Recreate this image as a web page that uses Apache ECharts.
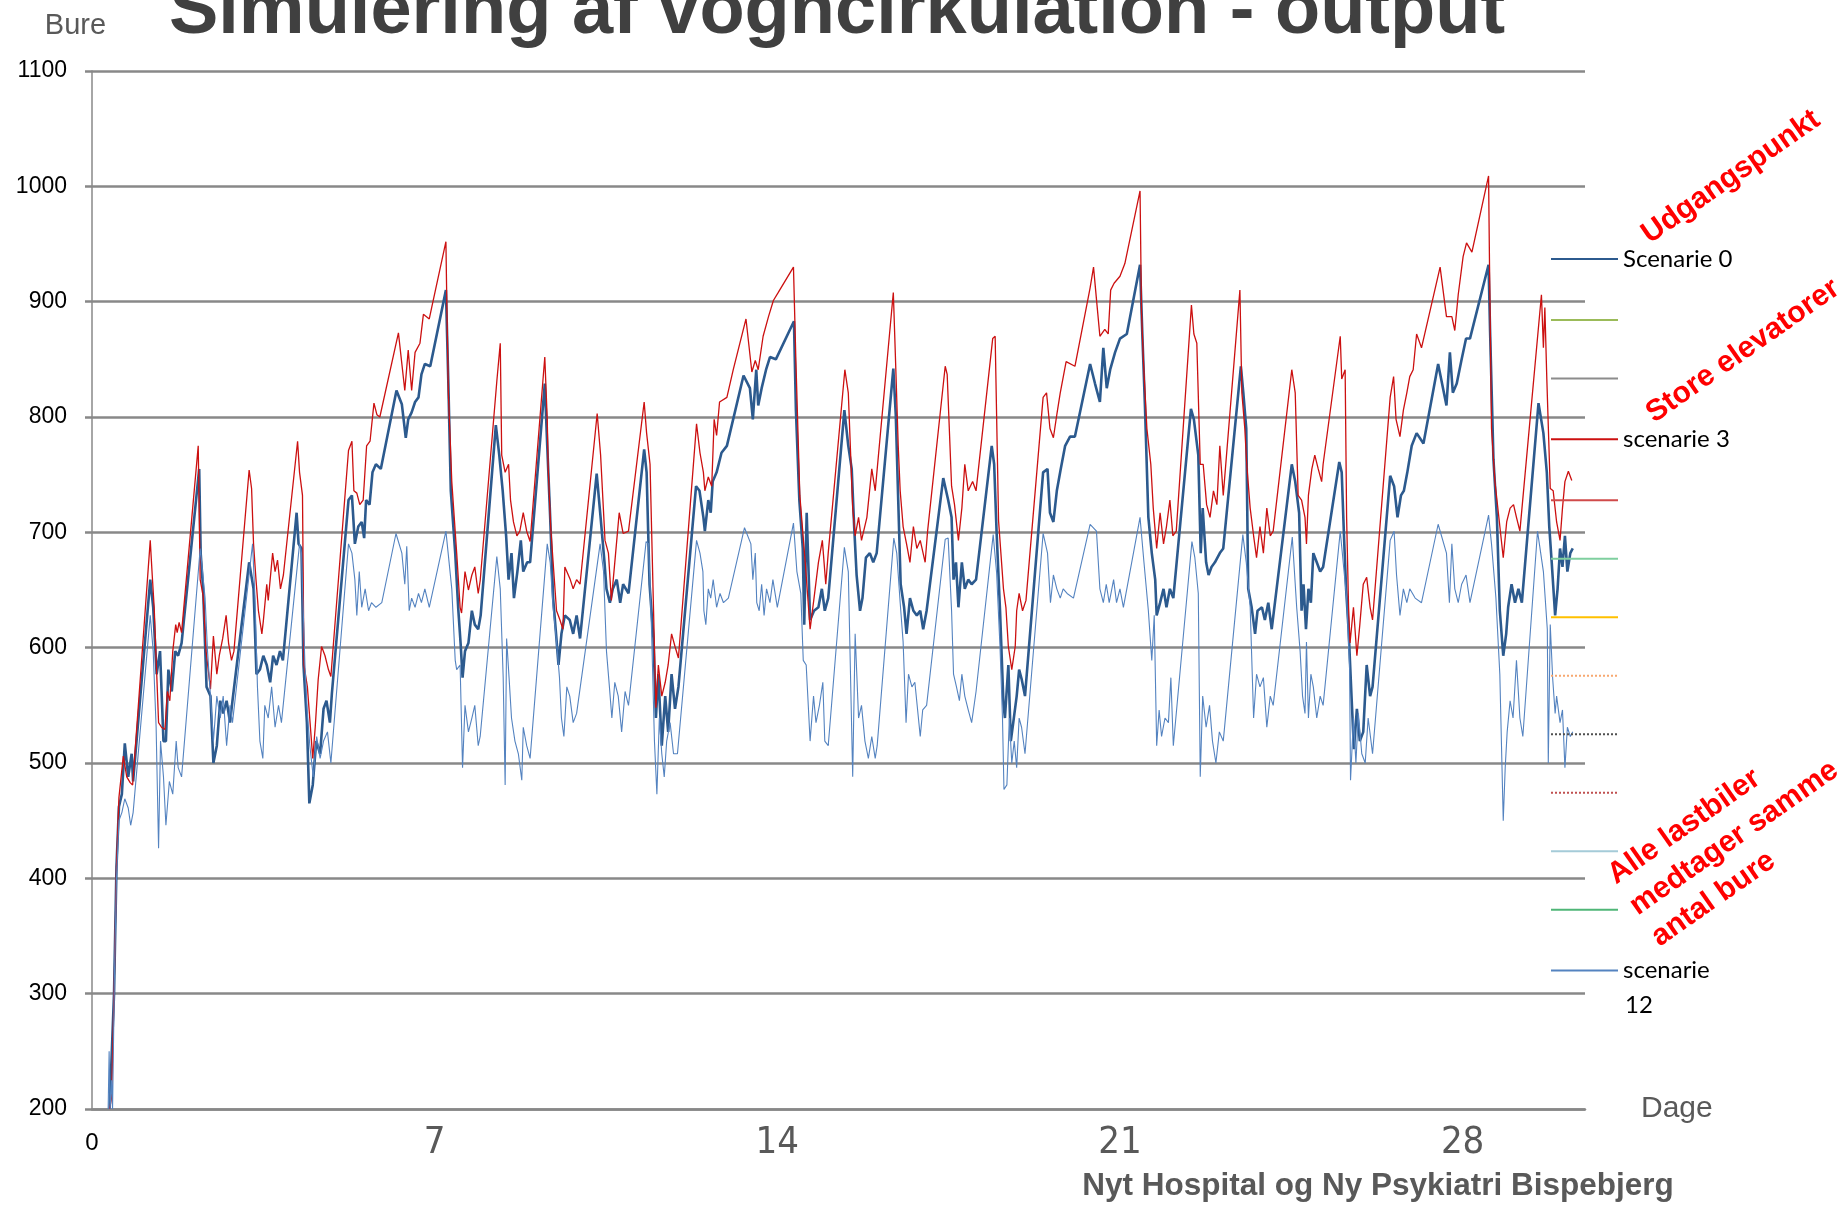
<!DOCTYPE html>
<html>
<head>
<meta charset="utf-8">
<title>Simulering af vogncirkulation - output</title>
<script src="https://cdn.jsdelivr.net/npm/echarts@6.0.0/dist/echarts.min.js"></script>
<style>
  html, body { margin: 0; padding: 0; background: #fff; }
  #chart { width: 1845px; height: 1206px; }
</style>
</head>
<body>
<div id="chart"></div>
<script>
// x ticks (dage) and y ticks (bure)
const dayTicks = [0, 7, 14, 21, 28]
const bureMin = 200
const bureMax = 1100

// legend entries, in the order of the reference legend
const legendNames = ['Scenarie 0', 'Scenarie 1', 'Scenarie 2', 'scenarie 3', 'Scenarie 4', 'Scenarie 5',
  'Scenarie 6', 'Scenarie 7', 'Scenarie 8', 'Scenarie 9', 'Scenarie 10', 'Scenarie 11', 'scenarie 12']
const legendLabels = ['Scenarie 0', '', '', 'scenarie 3', '', '', '', '', '', '', '', '', 'scenarie']

// [dag, bure]
const scenarie0 = [
  [0.36, 200], [0.40, 200], [0.45, 300], [0.50, 410], [0.55, 462], [0.61, 473], [0.67, 517], [0.74, 488], [0.81, 508], [0.84, 484],
  [1.19, 659], [1.25, 635], [1.32, 577], [1.39, 597], [1.46, 519], [1.51, 519], [1.56, 581], [1.63, 562], [1.70, 597], [1.76, 593], [1.83, 604],
  [2.19, 755], [2.22, 682], [2.27, 651], [2.34, 566], [2.42, 558], [2.48, 500], [2.55, 515], [2.62, 554], [2.68, 543], [2.75, 554], [2.82, 535], [2.87, 554],
  [3.21, 674], [3.30, 651], [3.36, 577], [3.43, 581], [3.50, 593], [3.57, 585], [3.64, 570], [3.70, 593], [3.77, 585], [3.84, 597], [3.90, 589],
  [4.18, 717], [4.22, 690], [4.28, 686], [4.32, 585], [4.39, 535], [4.44, 465], [4.51, 481], [4.58, 519], [4.66, 508], [4.73, 547], [4.79, 554], [4.86, 535], [4.90, 560],
  [5.24, 728], [5.31, 732], [5.37, 690], [5.44, 705], [5.51, 709], [5.56, 695], [5.60, 728], [5.67, 724], [5.73, 752], [5.80, 759], [5.90, 755],
  [6.22, 823], [6.33, 811], [6.41, 782], [6.46, 798], [6.53, 804], [6.60, 813], [6.67, 817], [6.73, 837], [6.80, 846], [6.91, 844],
  [7.23, 910], [7.28, 829], [7.33, 736], [7.42, 682], [7.48, 635], [7.53, 604], [7.57, 574], [7.62, 597], [7.69, 604], [7.76, 632], [7.82, 620], [7.89, 616], [7.94, 628],
  [8.25, 793], [8.32, 767], [8.39, 736], [8.46, 697], [8.51, 659], [8.57, 682], [8.62, 643], [8.69, 666], [8.76, 693], [8.81, 666], [8.89, 674], [8.95, 674],
  [9.25, 829], [9.30, 775], [9.36, 713], [9.42, 643], [9.48, 612], [9.53, 585], [9.59, 612], [9.66, 628], [9.76, 624], [9.83, 612], [9.90, 628], [9.97, 608],
  [10.31, 751], [10.39, 713], [10.47, 674], [10.51, 651], [10.58, 639], [10.64, 651], [10.72, 659], [10.79, 639], [10.85, 655], [10.96, 647],
  [11.28, 772], [11.33, 752], [11.39, 655], [11.47, 608], [11.52, 539], [11.57, 577], [11.64, 515], [11.71, 558], [11.77, 527], [11.84, 577], [11.91, 547], [11.98, 566],
  [12.34, 740], [12.41, 736], [12.49, 713], [12.52, 701], [12.59, 728], [12.64, 717], [12.68, 744], [12.76, 752], [12.86, 769], [12.97, 775],
  [13.31, 836], [13.44, 825], [13.50, 798], [13.57, 841], [13.61, 810], [13.68, 825], [13.77, 841], [13.85, 852], [13.97, 850],
  [14.34, 883], [14.38, 806], [14.45, 728], [14.52, 686], [14.55, 620], [14.60, 717], [14.67, 624], [14.75, 632], [14.84, 635], [14.91, 651], [14.97, 632], [15.04, 643],
  [15.37, 806], [15.45, 775], [15.52, 755], [15.57, 705], [15.62, 663], [15.69, 632], [15.74, 643], [15.81, 678], [15.89, 682], [15.96, 674], [16.03, 682],
  [16.37, 842], [16.42, 802], [16.47, 728], [16.52, 655], [16.59, 635], [16.64, 612], [16.71, 643], [16.78, 632], [16.85, 628], [16.92, 632], [16.98, 616], [17.05, 632],
  [17.39, 747], [17.49, 728], [17.56, 713], [17.60, 659], [17.65, 674], [17.70, 635], [17.77, 674], [17.83, 651], [17.90, 659], [17.97, 655], [18.06, 659],
  [18.38, 775], [18.43, 759], [18.48, 700], [18.55, 632], [18.62, 551], [18.65, 539], [18.72, 585], [18.77, 519], [18.82, 535], [18.89, 558], [18.94, 581], [18.99, 573], [19.06, 558],
  [19.43, 752], [19.52, 755], [19.57, 717], [19.64, 709], [19.71, 736], [19.79, 755], [19.88, 775], [19.98, 783], [20.08, 783],
  [20.39, 846], [20.49, 829], [20.59, 813], [20.66, 860], [20.73, 825], [20.80, 841], [20.90, 856], [21.00, 868], [21.14, 872],
  [21.41, 932], [21.46, 868], [21.51, 810], [21.58, 713], [21.65, 682], [21.72, 659], [21.75, 628], [21.82, 639], [21.89, 651], [21.95, 635], [22.02, 651], [22.09, 643],
  [22.45, 807], [22.51, 798], [22.60, 767], [22.65, 682], [22.69, 721], [22.76, 674], [22.81, 663], [22.87, 670], [22.94, 674], [23.04, 682], [23.11, 686],
  [23.47, 844], [23.52, 821], [23.58, 790], [23.62, 651], [23.69, 635], [23.76, 612], [23.81, 632], [23.90, 635], [23.96, 624], [24.03, 639], [24.10, 616],
  [24.51, 759], [24.58, 744], [24.66, 717], [24.71, 632], [24.75, 655], [24.80, 616], [24.85, 651], [24.90, 639], [24.95, 682], [25.02, 674], [25.09, 666], [25.15, 670],
  [25.48, 761], [25.53, 752], [25.58, 693], [25.62, 651], [25.67, 616], [25.73, 558], [25.78, 512], [25.84, 547], [25.90, 519], [25.97, 527], [26.04, 585], [26.11, 558], [26.16, 566],
  [26.52, 749], [26.60, 740], [26.67, 713], [26.74, 732], [26.80, 736], [26.87, 752], [26.96, 775], [27.06, 786], [27.20, 777],
  [27.50, 846], [27.67, 810], [27.74, 856], [27.80, 821], [27.88, 829], [27.98, 850], [28.07, 868], [28.15, 868],
  [28.53, 932], [28.56, 876], [28.63, 763], [28.70, 713], [28.76, 632], [28.83, 593], [28.89, 612], [28.93, 635], [29.00, 655], [29.07, 639], [29.14, 651], [29.21, 639],
  [29.55, 812], [29.65, 786], [29.72, 752], [29.77, 705], [29.82, 674], [29.89, 628], [29.94, 651], [29.99, 686], [30.04, 670], [30.09, 697], [30.14, 666], [30.20, 682], [30.25, 686]
]

const scenarie3 = [
  [0.36, 200], [0.40, 210], [0.45, 300], [0.50, 410], [0.55, 470], [0.64, 506], [0.71, 488], [0.78, 483], [0.83, 481],
  [1.19, 693], [1.23, 663], [1.27, 635], [1.36, 535], [1.42, 531], [1.49, 529], [1.54, 562], [1.59, 554], [1.65, 597], [1.71, 620], [1.74, 613], [1.78, 622], [1.83, 613],
  [2.17, 775], [2.21, 659], [2.27, 645], [2.33, 597], [2.42, 564], [2.48, 610], [2.55, 577], [2.60, 593], [2.67, 608], [2.74, 628], [2.79, 604], [2.85, 589], [2.90, 597],
  [3.21, 754], [3.26, 738], [3.30, 690], [3.35, 659], [3.40, 632], [3.47, 612], [3.50, 623], [3.57, 655], [3.60, 641], [3.69, 682], [3.74, 666], [3.79, 676], [3.85, 651], [3.91, 663],
  [4.20, 779], [4.24, 752], [4.30, 732], [4.33, 585], [4.40, 566], [4.51, 504], [4.56, 531], [4.62, 572], [4.69, 601], [4.76, 593], [4.83, 581], [4.88, 575],
  [5.24, 771], [5.31, 779], [5.35, 736], [5.41, 734], [5.47, 724], [5.54, 728], [5.61, 775], [5.68, 779], [5.76, 812], [5.82, 802], [5.88, 800],
  [6.26, 873], [6.39, 823], [6.46, 858], [6.53, 823], [6.60, 856], [6.70, 864], [6.77, 889], [6.89, 885], [6.94, 895],
  [7.23, 952], [7.25, 895], [7.28, 821], [7.35, 744], [7.45, 682], [7.52, 635], [7.55, 630], [7.62, 666], [7.69, 650], [7.76, 663], [7.82, 670], [7.89, 647], [7.93, 658],
  [8.27, 831], [8.34, 864], [8.37, 767], [8.44, 752], [8.51, 759], [8.55, 728], [8.61, 709], [8.68, 697], [8.74, 701], [8.81, 717], [8.88, 701], [8.95, 692],
  [9.25, 852], [9.30, 798], [9.32, 755], [9.37, 705], [9.42, 674], [9.49, 632], [9.56, 624], [9.62, 616], [9.66, 670], [9.77, 659], [9.83, 651], [9.90, 659], [9.97, 655],
  [10.32, 803], [10.39, 767], [10.48, 693], [10.55, 682], [10.61, 641], [10.68, 674], [10.77, 717], [10.85, 699], [10.96, 701],
  [11.28, 813], [11.33, 786], [11.40, 759], [11.47, 635], [11.52, 548], [11.57, 585], [11.64, 558], [11.71, 570], [11.77, 585], [11.84, 612], [11.91, 601], [11.98, 591],
  [12.35, 794], [12.42, 769], [12.49, 752], [12.52, 736], [12.59, 748], [12.66, 740], [12.71, 798], [12.76, 784], [12.82, 813], [12.97, 817], [13.10, 841],
  [13.36, 885], [13.48, 839], [13.55, 849], [13.61, 841], [13.71, 870], [13.82, 887], [13.92, 901], [14.02, 908],
  [14.33, 930], [14.38, 848], [14.46, 732], [14.57, 674], [14.67, 616], [14.75, 643], [14.84, 674], [14.92, 693], [14.99, 655], [15.04, 682],
  [15.38, 841], [15.45, 821], [15.54, 721], [15.59, 697], [15.66, 713], [15.72, 693], [15.83, 713], [15.93, 755], [16.00, 736],
  [16.37, 908], [16.41, 856], [16.47, 775], [16.51, 736], [16.57, 705], [16.64, 690], [16.71, 674], [16.78, 705], [16.85, 686], [16.92, 693], [17.02, 674], [17.07, 701],
  [17.43, 844], [17.47, 837], [17.56, 740], [17.62, 724], [17.70, 693], [17.77, 721], [17.83, 759], [17.90, 736], [17.99, 744], [18.06, 736],
  [18.40, 868], [18.45, 870], [18.52, 710], [18.62, 651], [18.67, 635], [18.72, 601], [18.79, 581], [18.86, 601], [18.89, 632], [18.94, 647], [19.01, 632], [19.08, 641],
  [19.43, 817], [19.50, 821], [19.57, 790], [19.64, 782], [19.71, 802], [19.78, 821], [19.90, 848], [20.08, 844],
  [20.39, 912], [20.46, 930], [20.52, 902], [20.59, 870], [20.69, 876], [20.76, 872], [20.81, 910], [20.88, 916], [21.00, 922], [21.10, 933],
  [21.41, 996], [21.44, 891], [21.48, 848], [21.55, 790], [21.63, 759], [21.68, 721], [21.75, 686], [21.82, 717], [21.89, 690], [21.95, 705], [22.02, 728], [22.08, 697], [22.15, 701],
  [22.46, 897], [22.51, 872], [22.57, 864], [22.64, 759], [22.70, 759], [22.77, 724], [22.84, 713], [22.91, 736], [22.98, 724], [23.04, 775], [23.11, 732],
  [23.45, 910], [23.49, 821], [23.55, 790], [23.59, 759], [23.66, 721], [23.73, 697], [23.79, 678], [23.86, 705], [23.93, 682], [24.00, 721], [24.07, 697], [24.13, 701],
  [24.51, 841], [24.58, 821], [24.64, 732], [24.71, 728], [24.78, 713], [24.81, 690], [24.85, 732], [24.92, 755], [24.98, 767], [25.05, 755], [25.12, 744], [25.15, 759],
  [25.50, 870], [25.53, 833], [25.60, 841], [25.63, 713], [25.67, 635], [25.70, 604], [25.77, 635], [25.84, 593], [25.90, 620], [25.97, 655], [26.04, 661], [26.11, 635], [26.16, 624],
  [26.52, 817], [26.59, 835], [26.64, 798], [26.72, 783], [26.79, 806], [26.86, 821], [26.92, 835], [26.99, 841], [27.06, 872], [27.16, 860],
  [27.54, 930], [27.67, 887], [27.78, 887], [27.84, 875], [27.91, 906], [28.01, 939], [28.08, 951], [28.19, 943],
  [28.53, 1009], [28.55, 930], [28.59, 790], [28.66, 744], [28.73, 717], [28.83, 678], [28.90, 709], [28.97, 721], [29.04, 724], [29.10, 713], [29.17, 701],
  [29.61, 906], [29.65, 860], [29.68, 895], [29.72, 833], [29.79, 738], [29.85, 736], [29.92, 709], [29.99, 693], [30.04, 721], [30.09, 744], [30.16, 753], [30.23, 745]
]

const scenarie12 = [
  [0.33, 200], [0.35, 250], [0.37, 200], [0.40, 225], [0.42, 200], [0.46, 320], [0.50, 400], [0.55, 450], [0.61, 457], [0.67, 469], [0.74, 461], [0.79, 446], [0.84, 457],
  [1.19, 628], [1.25, 597], [1.31, 531], [1.36, 426], [1.40, 519], [1.46, 488], [1.51, 446], [1.58, 484], [1.65, 473], [1.72, 519], [1.76, 496], [1.83, 488],
  [2.21, 686], [2.24, 674], [2.31, 643], [2.36, 597], [2.42, 558], [2.48, 519], [2.55, 558], [2.62, 539], [2.68, 558], [2.75, 515], [2.82, 550], [2.87, 535],
  [3.28, 690], [3.33, 643], [3.38, 566], [3.43, 519], [3.49, 504], [3.53, 550], [3.60, 539], [3.67, 566], [3.74, 531], [3.81, 550], [3.87, 535],
  [4.24, 690], [4.28, 682], [4.35, 585], [4.40, 543], [4.45, 515], [4.52, 488], [4.59, 523], [4.66, 504], [4.73, 519], [4.81, 527], [4.88, 500],
  [5.24, 690], [5.31, 682], [5.37, 659], [5.41, 628], [5.46, 666], [5.51, 635], [5.58, 651], [5.65, 632], [5.71, 639], [5.80, 635], [5.92, 639],
  [6.21, 699], [6.33, 682], [6.39, 655], [6.43, 688], [6.48, 632], [6.53, 643], [6.60, 635], [6.67, 647], [6.73, 639], [6.80, 651], [6.89, 635],
  [7.23, 701], [7.35, 651], [7.42, 589], [7.45, 581], [7.52, 585], [7.57, 496], [7.62, 550], [7.69, 527], [7.76, 539], [7.82, 550], [7.89, 515], [7.93, 523],
  [8.27, 679], [8.34, 651], [8.40, 574], [8.44, 481], [8.47, 608], [8.52, 574], [8.57, 539], [8.64, 519], [8.71, 508], [8.78, 485], [8.81, 531], [8.88, 515], [8.95, 504],
  [9.30, 690], [9.36, 674], [9.42, 635], [9.49, 605], [9.55, 574], [9.59, 539], [9.64, 523], [9.70, 566], [9.76, 558], [9.83, 535], [9.90, 543],
  [10.38, 690], [10.45, 666], [10.51, 597], [10.57, 566], [10.62, 539], [10.68, 570], [10.75, 558], [10.82, 527], [10.89, 562], [10.96, 550],
  [11.32, 692], [11.37, 690], [11.43, 616], [11.49, 519], [11.54, 473], [11.59, 539], [11.64, 508], [11.69, 488], [11.74, 519], [11.81, 535], [11.88, 508], [11.96, 508],
  [12.35, 693], [12.42, 682], [12.48, 666], [12.50, 632], [12.54, 620], [12.59, 651], [12.64, 643], [12.69, 659], [12.76, 635], [12.83, 647], [12.90, 639], [13.00, 643],
  [13.33, 704], [13.46, 690], [13.50, 659], [13.55, 682], [13.58, 639], [13.63, 632], [13.68, 655], [13.73, 628], [13.78, 651], [13.85, 639], [13.91, 659], [14.00, 635],
  [14.33, 708], [14.40, 666], [14.48, 647], [14.53, 589], [14.59, 585], [14.67, 519], [14.74, 558], [14.79, 535], [14.86, 550], [14.93, 570], [14.97, 519], [15.04, 515],
  [15.37, 687], [15.45, 666], [15.54, 488], [15.59, 612], [15.66, 539], [15.72, 550], [15.79, 519], [15.86, 504], [15.93, 523], [16.00, 504], [16.04, 515],
  [16.38, 695], [16.44, 682], [16.51, 639], [16.57, 605], [16.63, 535], [16.68, 577], [16.75, 566], [16.81, 570], [16.92, 523], [16.97, 546], [17.05, 550],
  [17.43, 694], [17.49, 695], [17.56, 632], [17.60, 577], [17.66, 566], [17.72, 554], [17.77, 577], [17.83, 558], [17.90, 546], [17.97, 535], [18.06, 562],
  [18.41, 698], [18.48, 665], [18.55, 600], [18.60, 539], [18.63, 477], [18.69, 481], [18.74, 539], [18.79, 500], [18.84, 519], [18.89, 496], [18.94, 539], [18.99, 531], [19.06, 508],
  [19.43, 699], [19.52, 682], [19.58, 639], [19.64, 663], [19.71, 651], [19.78, 643], [19.84, 651], [19.92, 647], [20.05, 643],
  [20.39, 707], [20.52, 701], [20.59, 651], [20.66, 639], [20.72, 655], [20.78, 639], [20.87, 659], [20.93, 639], [21.00, 651], [21.07, 635],
  [21.41, 713], [21.49, 674], [21.58, 632], [21.65, 589], [21.70, 628], [21.75, 515], [21.80, 546], [21.85, 523], [21.92, 539], [21.99, 535], [22.04, 574], [22.09, 515],
  [22.47, 692], [22.53, 678], [22.60, 647], [22.64, 488], [22.69, 558], [22.76, 531], [22.83, 550], [22.89, 519], [22.96, 500], [23.03, 527], [23.11, 519],
  [23.51, 698], [23.58, 674], [23.66, 635], [23.73, 539], [23.79, 577], [23.86, 566], [23.93, 574], [24.00, 531], [24.07, 558], [24.13, 550],
  [24.52, 696], [24.56, 696], [24.61, 635], [24.68, 597], [24.73, 558], [24.78, 543], [24.81, 605], [24.85, 539], [24.90, 577], [24.95, 566], [25.02, 539], [25.09, 558], [25.15, 550],
  [25.50, 701], [25.56, 674], [25.63, 643], [25.69, 585], [25.71, 485], [25.77, 539], [25.82, 500], [25.87, 543], [25.94, 508], [26.01, 500], [26.07, 539], [26.16, 508],
  [26.52, 693], [26.60, 701], [26.65, 663], [26.72, 628], [26.79, 651], [26.86, 639], [26.92, 651], [27.03, 643], [27.16, 639],
  [27.50, 707], [27.67, 682], [27.73, 639], [27.78, 690], [27.84, 651], [27.91, 639], [27.98, 655], [28.07, 663], [28.15, 639],
  [28.53, 715], [28.59, 690], [28.68, 643], [28.76, 577], [28.83, 450], [28.87, 496], [28.91, 527], [28.97, 554], [29.03, 539], [29.10, 589], [29.17, 539], [29.23, 523],
  [29.53, 701], [29.65, 666], [29.73, 616], [29.75, 500], [29.79, 620], [29.84, 573], [29.89, 543], [29.92, 558], [29.99, 535], [30.04, 546], [30.09, 496], [30.14, 531], [30.20, 523], [30.25, 527]
]

// legend-only entries (no data drawn in the picture)
const emptyStyles = [
  null,
  { color: '#9bbb59', type: 'solid' },
  { color: '#8c8c8c', type: 'solid' },
  null,
  { color: '#d04a4a', type: 'solid' },
  { color: '#7fcf9f', type: 'solid' },
  { color: '#ffc000', type: 'solid' },
  { color: '#f7a870', type: 'dotted' },
  { color: '#505050', type: 'dotted' },
  { color: '#c05050', type: 'dotted' },
  { color: '#a5cbd8', type: 'solid' },
  { color: '#4fb677', type: 'solid' },
  null
]

const chart = echarts.init(document.getElementById('chart'))

const mainSeries = {
  'Scenarie 0': { data: scenarie0, color: '#2c5a8e', width: 2.6 },
  'scenarie 3': { data: scenarie3, color: '#cc1010', width: 1.3 },
  'scenarie 12': { data: scenarie12, color: '#5483c0', width: 1.1 }
}

const series = []
legendNames.forEach((name, i) => {
  if (mainSeries[name]) return
  series.push({
    name,
    type: 'line',
    data: [],
    symbol: 'none',
    color: emptyStyles[i].color,
    lineStyle: { color: emptyStyles[i].color, width: 1.5, type: emptyStyles[i].type }
  })
})
// draw order: dark blue, red, light blue on top
;['Scenarie 0', 'scenarie 3', 'scenarie 12'].forEach(name => {
  const m = mainSeries[name]
  series.push({
    name,
    type: 'line',
    data: m.data,
    symbol: 'none',
    color: m.color,
    lineStyle: { color: m.color, width: m.width },
    z: 3
  })
})

const rot = 35 * Math.PI / 180

const option = {
  animation: false,
  backgroundColor: '#fff',
  grid: { left: 92, right: 260, top: 71, bottom: 97, containLabel: false, outerBoundsMode: 'none' },
  xAxis: {
    type: 'value',
    min: 0,
    max: 30.5,
    interval: 7,
    name: 'Dage',
    nameLocation: 'end',
    nameGap: 56,
    nameTextStyle: { fontFamily: 'Liberation Sans', fontSize: 30, color: '#595959', padding: [0, 0, 12, 0] },
    axisLine: { show: true, onZero: false, lineStyle: { color: '#888', width: 2.5 } },
    axisTick: { show: false },
    splitLine: { show: false },
    axisLabel: {
      margin: 15,
      fontFamily: "'Liberation Sans Narrow', 'DejaVu Sans Condensed', sans-serif",
      fontSize: 38,
      color: '#595959',
      showMaxLabel: false,
      formatter: v => {
        if (!dayTicks.includes(v)) return ''
        return v === 0 ? '{z|0}' : String(v)
      },
      rich: {
        z: { fontFamily: 'Liberation Sans', fontSize: 24, color: '#000', lineHeight: 38 }
      }
    }
  },
  yAxis: {
    type: 'value',
    min: bureMin,
    max: bureMax,
    interval: 100,
    name: 'Bure',
    nameLocation: 'end',
    nameGap: 31,
    nameTextStyle: { fontFamily: 'Liberation Sans', fontSize: 29, color: '#595959', align: 'center', padding: [0, 33, 0, 0] },
    axisLine: { show: true, lineStyle: { color: '#888', width: 1.5 } },
    axisTick: { show: true, length: 7, lineStyle: { color: '#888', width: 2.5 } },
    splitLine: { show: true, lineStyle: { color: '#888', width: 2.5 } },
    axisLabel: { margin: 25, fontFamily: 'Liberation Sans', fontSize: 23, color: '#000', formatter: v => String(v) }
  },
  legend: {
    orient: 'vertical',
    left: 1550,
    top: 247,
    padding: 0,
    itemWidth: 67,
    itemHeight: 24,
    itemGap: 39.3,
    selectedMode: false,
    data: legendNames,
    itemStyle: { opacity: 0, borderWidth: 0 },
    formatter: name => legendLabels[legendNames.indexOf(name)],
    textStyle: { fontFamily: 'Lato', fontSize: 24, color: '#000', lineHeight: 24 }
  },
  graphic: [
    {
      type: 'text', x: 837, y: 13, z: 10,
      style: { text: 'Simulering af vogncirkulation - output', fontFamily: 'Liberation Sans', fontWeight: 'bold', fontSize: 74,
        fill: '#404040', align: 'center', verticalAlign: 'middle', textAlign: 'center', textVerticalAlign: 'middle' }
    },
    {
      type: 'text', x: 1625, y: 1005, z: 10,
      style: { text: '12', fontFamily: 'Lato', fontSize: 24, fill: '#000', align: 'left', verticalAlign: 'middle', textAlign: 'left', textVerticalAlign: 'middle' }
    },
    {
      type: 'text', x: 1378, y: 1186, z: 10,
      style: { text: 'Nyt Hospital og Ny Psykiatri Bispebjerg', fontFamily: 'Liberation Sans', fontWeight: 'bold', fontSize: 31.5,
        fill: '#595959', align: 'center', verticalAlign: 'middle', textAlign: 'center', textVerticalAlign: 'middle' }
    },
    {
      type: 'text', x: 1731, y: 177, rotation: rot, z: 10,
      style: { text: 'Udgangspunkt', fontFamily: 'Liberation Sans', fontWeight: 'bold', fontSize: 30,
        fill: '#ff0000', align: 'center', verticalAlign: 'middle', textAlign: 'center', textVerticalAlign: 'middle' }
    },
    {
      type: 'text', x: 1743, y: 351, rotation: rot, z: 10,
      style: { text: 'Store elevatorer', fontFamily: 'Liberation Sans', fontWeight: 'bold', fontSize: 30,
        fill: '#ff0000', align: 'center', verticalAlign: 'middle', textAlign: 'center', textVerticalAlign: 'middle' }
    },
    {
      type: 'text', x: 1633, y: 909, rotation: rot, z: 10,
      style: { text: 'Alle lastbiler\nmedtager samme\nantal bure', fontFamily: 'Liberation Sans', fontWeight: 'bold', fontSize: 30, lineHeight: 38,
        fill: '#ff0000', align: 'left', verticalAlign: 'middle', textAlign: 'left', textVerticalAlign: 'middle' }
    }
  ],
  series
}

chart.setOption(option)
window.addEventListener('resize', () => chart.resize())
</script>
</body>
</html>
